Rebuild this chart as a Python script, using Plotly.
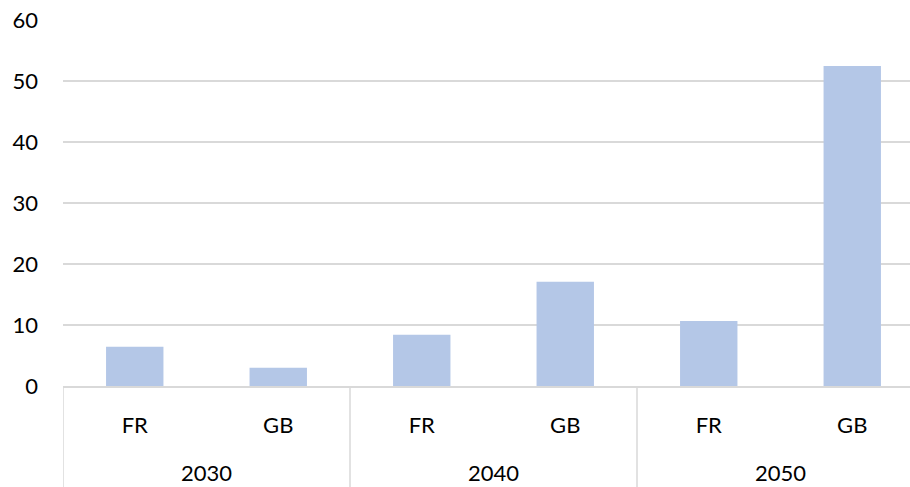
import plotly.graph_objects as go

# Data
years = ["2030", "2040", "2050"]
countries = ["FR", "GB"]
values = [6.45, 3.0, 8.4, 17.1, 10.65, 52.45]  # FR, GB per year
y_ticks = [0, 10, 20, 30, 40, 50, 60]

n_c = len(countries)
x_idx = list(range(len(years) * n_c))
x_labels = [c for _ in years for c in countries]
group_centers = [i * n_c + (n_c - 1) / 2 for i in range(len(years))]
dividers = [i * n_c - 0.5 for i in range(len(years) + 1)]

FONT = "Lato"
FS = 22
GRID = "#d9d9d9"

fig = go.Figure()
fig.add_trace(go.Bar(
    x=x_idx, y=values,
    marker=dict(color="#b4c7e7", line=dict(width=0)),
    width=0.4,
    hoverinfo="y",
))

# group dividers below the axis
for d in dividers:
    fig.add_shape(type="line", xref="x", yref="paper",
                  x0=d, x1=d, y0=0, y1=-0.3,
                  line=dict(color=GRID, width=1.5))

# year labels under each group
for yr, c in zip(years, group_centers):
    fig.add_annotation(x=c, xref="x", y=0, yref="paper",
                       yanchor="middle", yshift=-86, text=yr,
                       showarrow=False,
                       font=dict(family=FONT, size=FS, color="#000000"))

fig.update_layout(
    width=910, height=487,
    margin=dict(l=63, r=0, t=20, b=101),
    paper_bgcolor="white", plot_bgcolor="white",
    showlegend=False,
    font=dict(family=FONT, size=FS, color="#000000"),
    xaxis=dict(
        range=[-0.5, len(x_idx) - 0.5 - 0.0976],
        tickmode="array", tickvals=x_idx, ticktext=x_labels,
        showgrid=False, zeroline=False,
        showline=True, linecolor=GRID, linewidth=2,
        ticks="", ticklabelstandoff=19,
        tickfont=dict(family=FONT, size=FS, color="#000000"),
    ),
    yaxis=dict(
        range=[0, 60], tickmode="array", tickvals=y_ticks,
        showgrid=True, gridcolor=GRID, gridwidth=2,
        zeroline=False, showline=False, ticks="",
        ticklabelstandoff=24,
        tickfont=dict(family=FONT, size=FS, color="#000000"),
    ),
    bargap=0.6,
)

fig.write_html("out.html")
